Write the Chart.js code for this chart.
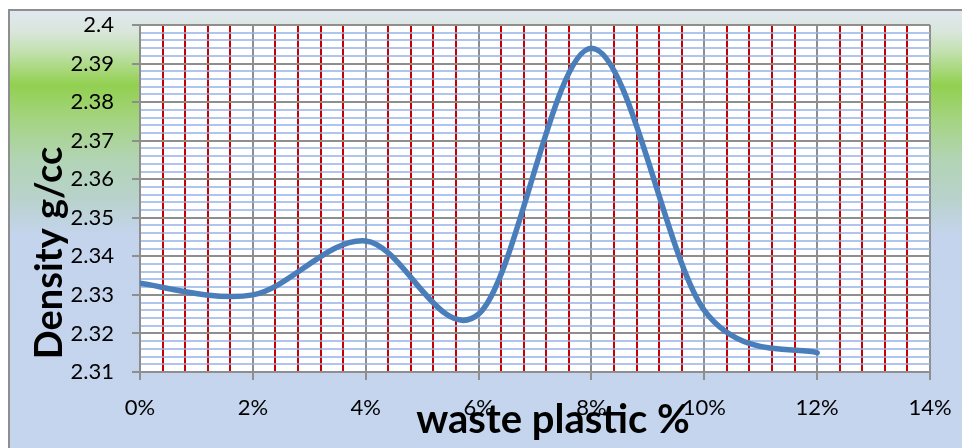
<!DOCTYPE html>
<html>
<head>
<meta charset="utf-8">
<script src="https://cdn.jsdelivr.net/npm/chart.js@4.4.1/dist/chart.umd.min.js"></script>
<style>
  html, body { margin: 0; padding: 0; background: #ffffff; }
  #wrap { width: 962px; height: 448px; }
</style>
</head>
<body>
<div id="wrap"><canvas id="c" width="962" height="448"></canvas></div>
<script>
// Density of the mix against the share of waste plastic
const plasticPct = [0, 2, 4, 6, 8, 10, 12];
const densityGcc = [2.333, 2.330, 2.344, 2.325, 2.394, 2.326, 2.315];

const xTitle = 'waste plastic %';
const yTitle = 'Density g/cc';

const GRID_GRAY = '#8e8e8e';
const GRID_RED = '#c80000';
const GRID_BLUE = 'rgba(150,178,228,0.75)';
const LINE_BLUE = '#4a7ebb';
const FONT = 'Lato, "Open Sans", sans-serif';

const isWhole = (v, mul) => Math.abs(v * mul - Math.round(v * mul)) < 1e-6;
const xMajor = v => isWhole(v / 2, 1);     // every 2 %
const yMajor = v => isWhole(v, 100);       // every 0.01 g/cc

// Frame and gradient fill behind the whole chart, white plot area
const backdrop = {
  id: 'backdrop',
  beforeDraw(chart) {
    const { ctx, chartArea: a } = chart;
    ctx.save();
    ctx.fillStyle = '#ffffff';
    ctx.fillRect(0, 0, chart.width, chart.height);
    const g = ctx.createLinearGradient(0, 9, 0, 448);
    g.addColorStop(0.0, '#e1e8f1');
    g.addColorStop(0.05, '#d9e6dc');
    g.addColorStop(0.095, '#c4e1b2');
    g.addColorStop(0.173, '#92d050');
    g.addColorStop(0.255, '#a5d483');
    g.addColorStop(0.345, '#b2d4b5');
    g.addColorStop(0.43, '#b8d2cb');
    g.addColorStop(0.515, '#c4d4ec');
    g.addColorStop(1.0, '#c5d5ee');
    ctx.fillStyle = g;
    ctx.fillRect(9, 10, chart.width, chart.height);
    ctx.strokeStyle = '#8e8e8e';
    ctx.lineWidth = 2;
    ctx.strokeRect(9, 10, chart.width + 20, chart.height + 20);
    ctx.fillStyle = '#ffffff';
    ctx.fillRect(a.left, a.top, a.right - a.left, a.bottom - a.top);
    ctx.restore();
  }
};

// Smooth the line with Catmull-Rom control points (tangent = (next - prev) / 6)
const smoothLine = {
  id: 'smoothLine',
  beforeDatasetDraw(chart, args) {
    const meta = args.meta;
    const pts = meta.data;
    const n = pts.length;
    for (let i = 0; i < n; i++) {
      const p = pts[i];
      const prev = pts[Math.max(i - 1, 0)];
      const next = pts[Math.min(i + 1, n - 1)];
      const dx = (next.x - prev.x) / 6;
      const dy = (next.y - prev.y) / 6;
      p.cp1x = p.x - dx; p.cp1y = p.y - dy;
      p.cp2x = p.x + dx; p.cp2y = p.y + dy;
    }
    meta.dataset._pointsUpdated = true;
    meta.dataset._path = undefined;
  }
};

// Axis titles placed freely
const axisTitles = {
  id: 'axisTitles',
  afterDraw(chart) {
    const { ctx } = chart;
    ctx.save();
    ctx.fillStyle = '#000000';
    ctx.textAlign = 'center';
    ctx.textBaseline = 'alphabetic';
    ctx.font = 'bold 40px ' + FONT;
    ctx.fillText(xTitle, 553, 433);
    ctx.font = 'bold 38px ' + FONT;
    ctx.translate(62, 253);
    ctx.rotate(-Math.PI / 2);
    ctx.fillText(yTitle, 0, 0);
    ctx.restore();
  }
};

new Chart(document.getElementById('c'), {
  type: 'line',
  data: {
    datasets: [{
      data: plasticPct.map((x, i) => ({ x, y: densityGcc[i] })),
      borderColor: LINE_BLUE,
      borderWidth: 5.5,
      borderCapStyle: 'round',
      borderJoinStyle: 'round',
      pointRadius: 0,
      pointHoverRadius: 0,
      tension: 0.4,
      fill: false
    }]
  },
  options: {
    responsive: false,
    animation: false,
    events: [],
    layout: { padding: { top: 25, right: 32, bottom: 0, left: 0 } },
    plugins: { legend: { display: false }, tooltip: { enabled: false } },
    scales: {
      x: {
        type: 'linear',
        min: 0,
        max: 14,
        ticks: {
          stepSize: 0.4,
          autoSkip: false,
          maxRotation: 0,
          minRotation: 0,
          padding: 15,
          color: '#000000',
          font: { family: FONT, size: 22 },
          callback: v => xMajor(v) ? Math.round(v) + '%' : ''
        },
        grid: {
          color: c => xMajor(c.tick.value) ? GRID_GRAY : GRID_RED,
          lineWidth: 2,
          tickLength: 8,
          tickColor: c => xMajor(c.tick.value) ? GRID_GRAY : 'rgba(0,0,0,0)',
          tickWidth: 2
        },
        border: { color: GRID_GRAY, width: 2 },
        afterFit: s => { s.height = 76; s.paddingLeft = 0; s.paddingRight = 0; }
      },
      y: {
        type: 'linear',
        min: 2.31,
        max: 2.4,
        ticks: {
          stepSize: 0.002,
          autoSkip: false,
          padding: 18,
          color: '#000000',
          font: { family: FONT, size: 22 },
          callback: v => yMajor(v) ? String(Math.round(v * 100) / 100) : ''
        },
        grid: {
          color: c => yMajor(c.tick.value) ? GRID_GRAY : GRID_BLUE,
          lineWidth: 2,
          tickLength: 8,
          tickColor: c => yMajor(c.tick.value) ? GRID_GRAY : 'rgba(0,0,0,0)',
          tickWidth: 2
        },
        border: { color: GRID_GRAY, width: 2 },
        afterFit: s => { s.width = 140; s.paddingTop = 0; s.paddingBottom = 0; }
      }
    }
  },
  plugins: [backdrop, smoothLine, axisTitles]
});
</script>
</body>
</html>
